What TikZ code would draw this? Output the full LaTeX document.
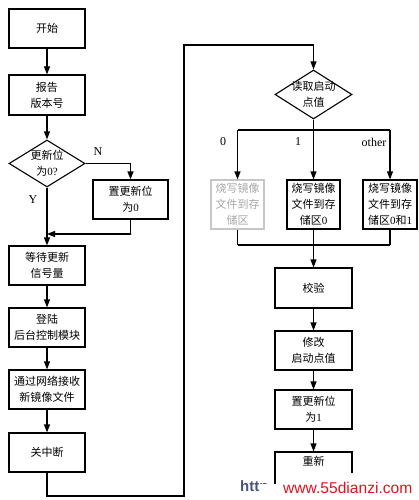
\documentclass[tikz,border=0pt]{standalone}
\usepackage{fontspec}
\setmainfont{Liberation Serif}
\newfontfamily\cjk{Noto Sans CJK SC}
\newfontfamily\wmfont{Liberation Sans}
\usetikzlibrary{arrows.meta,shapes.geometric}
\tikzset{
  box/.style={draw, line width=1.1pt, minimum width=76pt, minimum height=39pt, inner sep=0pt, align=center, font=\cjk\fontsize{11}{16}\selectfont},
  sbox/.style={box, minimum width=53pt, minimum height=49pt},
  faded/.style={draw=gray!45, text=gray!70},
  dia/.style={draw, line width=1.1pt, shape=diamond, inner sep=0pt},
  txt/.style={align=center, font=\cjk\fontsize{11}{16}\selectfont, inner sep=0pt},
  lbl/.style={font=\fontsize{12}{14}\selectfont, inner sep=0pt},
  line/.style={line width=1.1pt},
  arr/.style={line width=1.1pt, -{Triangle[length=8pt,width=6pt]}},
}
\begin{document}
\begin{tikzpicture}[x=1pt,y=-1pt]
\useasboundingbox (0,0) rectangle (418,500);
% left column
\node[box] (start) at (47,28.5) {开始};
\node[box, minimum height=40pt] (report) at (47,95) {报告\\版本号};
\node[dia, minimum width=76pt, minimum height=47pt] (d1) at (47,163.5) {};
\node[txt] (d1t) at (d1.center) {更新位\\为{\rmfamily 0?}};
\node[box, minimum width=75pt] (set0) at (130.5,199.5) {置更新位\\为{\rmfamily 0}};
\node[box] (wait) at (47,265.5) {等待更新\\信号量};
\node[box] (login) at (47,327.5) {登陆\\后台控制模块};
\node[box] (recv) at (47,389.5) {通过网络接收\\新镜像文件};
\node[box] (close) at (47,452.5) {关中断};
\node[lbl] (N) at (98,152) {N};
\node[lbl] (Y) at (33,200) {Y};
\coordinate (m1) at (131,234);
\coordinate (loop1) at (47,496);
\coordinate (loop2) at (184,496);
\coordinate (loop3) at (184,45);
\coordinate (loop4) at (313.5,45);
% right column
\node[dia, minimum width=77pt, minimum height=49pt] (d2) at (313.5,94.5) {};
\node[txt] (d2t) at (d2.center) {读取启动\\点值};
\coordinate (sp) at (313.5,130);
\coordinate (spl) at (237.5,130);
\coordinate (spr) at (390,130);
\node[sbox, faded] (b0) at (237.5,204.5) {烧写镜像\\文件到存\\储区};
\node[sbox] (b1) at (313.5,204.5) {烧写镜像\\文件到存\\储区{\rmfamily 0}};
\node[sbox, minimum width=54pt] (b2) at (390,204.5) {烧写镜像\\文件到存\\储区{\rmfamily 0}和{\rmfamily 1}};
\coordinate (jn) at (313.5,245);
\coordinate (jl) at (237.5,245);
\coordinate (jr) at (390,245);
\node[lbl] (L0) at (223,142) {0};
\node[lbl] (L1) at (298,142) {1};
\node[lbl] (Lo) at (374,142) {other};
\node[box, minimum width=77pt, minimum height=40pt] (check) at (313.5,288) {校验};
\node[box, minimum width=77pt] (modify) at (313.5,350.5) {修改\\启动点值};
\node[box, minimum width=77pt] (set1) at (313.5,409.5) {置更新位\\为{\rmfamily 1}};
\node[box, minimum width=77pt] (restart) at (313.5,471.5) {};
\node[txt] (restartt) at (313.5,461) {重新};
% connectors left
\draw[arr] (start) -- (report);
\draw[arr] (report) -- (d1);
\draw[arr] (d1.east) -| (set0.north);
\draw[arr] (set0.south) |- (m1) -- (m1 -| wait.north);
\draw[arr] (d1.south) -- (wait.north);
\draw[arr] (wait) -- (login);
\draw[arr] (login) -- (recv);
\draw[arr] (recv) -- (close);
\draw[line] (close.south) -- (loop1) -- (loop2) -- (loop3) -- (loop4);
\draw[arr] (loop4) -- (d2.north);
% connectors right
\draw[line] (d2.south) -- (sp);
\draw[line] (spl) -- (spr);
\draw[arr] (spl) -- (b0.north);
\draw[arr] (sp) -- (b1.north);
\draw[arr] (spr) -- (b2.north);
\draw[line] (b0.south) -- (jl);
\draw[line] (b1.south) -- (jn);
\draw[line] (b2.south) -- (jr);
\draw[line] (jl) -- (jr);
\draw[arr] (jn) -- (check.north);
\draw[arr] (check) -- (modify);
\draw[arr] (modify) -- (set1);
\draw[arr] (set1) -- (restart);
% watermark
\node[anchor=base west, inner sep=0pt, font=\wmfont\bfseries\fontsize{15}{15}\selectfont, text={rgb,255:red,70;green,85;blue,120}] (wm1) at (240,491) {http};
\fill[white] (259.5,484) rectangle (418,500);
\fill[white] (276,473) rectangle (418,484);
\node[anchor=base west, inner sep=0pt, font=\wmfont\fontsize{15.6}{16}\selectfont, text={rgb,255:red,225;green,20;blue,30}] (wm2) at (283,493) {www.55dianzi.com};
\end{tikzpicture}
\end{document}
